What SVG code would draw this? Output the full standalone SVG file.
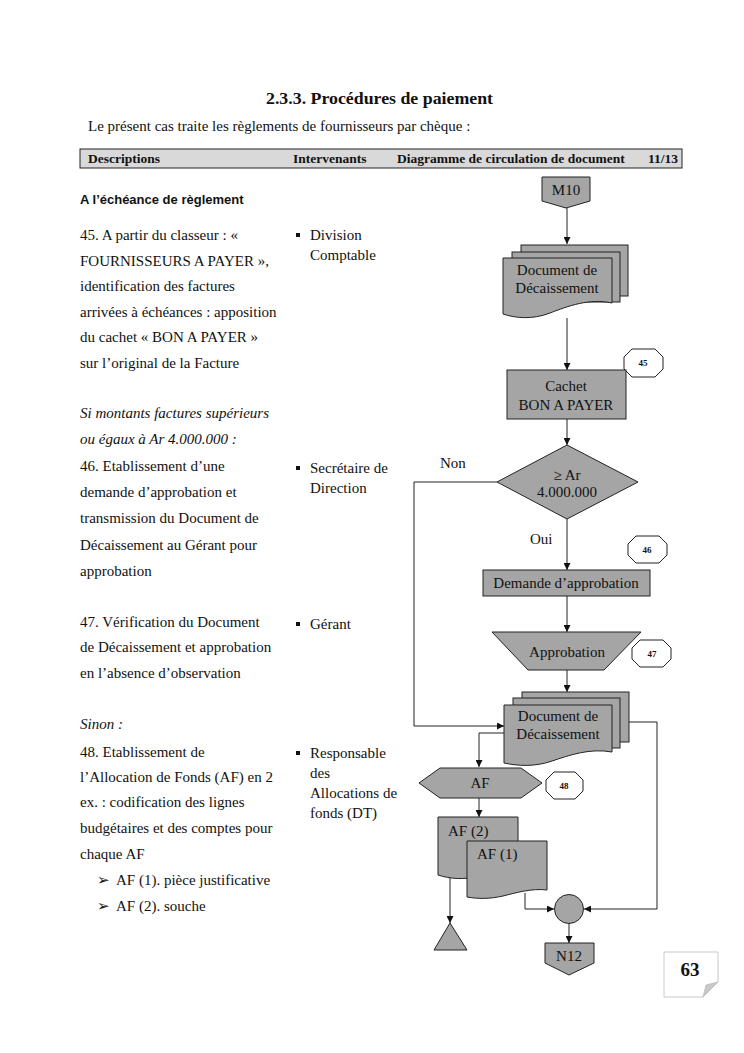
<svg xmlns="http://www.w3.org/2000/svg" width="744" height="1053" viewBox="0 0 744 1053">
<style>
.t{font-family:"Liberation Serif","Times New Roman",serif;font-size:15px;fill:#111}
.i{font-style:italic}
.hb{font-family:"Liberation Serif","Times New Roman",serif;font-size:13.5px;font-weight:bold;fill:#111}
.n{font-family:"Liberation Serif","Times New Roman",serif;font-size:15px;fill:#111;text-anchor:middle}
.bd{font-family:"Liberation Serif","Times New Roman",serif;font-size:9px;font-weight:bold;fill:#111;text-anchor:middle}
.sh{fill:#a5a5a5;stroke:#222;stroke-width:1}
.oct{fill:#fff;stroke:#222;stroke-width:1}
.ln{fill:none;stroke:#222;stroke-width:1}
</style>
<defs>
<marker id="ah" viewBox="0 0 10 10" refX="10" refY="5" markerWidth="7" markerHeight="7" markerUnits="userSpaceOnUse" orient="auto">
<path d="M0,0 L10,5 L0,10 Z" fill="#111"/>
</marker>
</defs>
<rect width="744" height="1053" fill="#fff"/>

<text x="266" y="104" textLength="227" lengthAdjust="spacingAndGlyphs" font-family="'Liberation Serif',serif" font-size="16.5" font-weight="bold" fill="#111">2.3.3. Procédures de paiement</text>
<text class="t" x="88" y="131">Le présent cas traite les règlements de fournisseurs par chèque :</text>

<rect x="80" y="149" width="602" height="19" fill="#d9d9d9" stroke="#222" stroke-width="1"/>
<text class="hb" x="88" y="163">Descriptions</text>
<text class="hb" x="293" y="163">Intervenants</text>
<text class="hb" x="397" y="163">Diagramme de circulation de document</text>
<text class="hb" x="648" y="163">11/13</text>

<text x="80" y="204" font-family="'Liberation Sans',Arial,sans-serif" font-size="13" font-weight="bold" fill="#111">A l’échéance de règlement</text>

<g id="descriptions">
<text class="t" x="80" y="240">45. A partir du classeur : «</text>
<text class="t" x="80" y="266">FOURNISSEURS A PAYER »,</text>
<text class="t" x="80" y="291">identification des factures</text>
<text class="t" x="80" y="317">arrivées à échéances : apposition</text>
<text class="t" x="80" y="342">du cachet « BON A PAYER »</text>
<text class="t" x="80" y="368">sur l’original de la Facture</text>
<text class="t i" x="80" y="418">Si montants factures supérieurs</text>
<text class="t i" x="80" y="444">ou égaux à Ar 4.000.000 :</text>
<text class="t" x="80" y="471">46. Etablissement d’une</text>
<text class="t" x="80" y="497">demande d’approbation et</text>
<text class="t" x="80" y="523">transmission du Document de</text>
<text class="t" x="80" y="550">Décaissement au Gérant pour</text>
<text class="t" x="80" y="576">approbation</text>
<text class="t" x="80" y="627">47. Vérification du Document</text>
<text class="t" x="80" y="652">de Décaissement et approbation</text>
<text class="t" x="80" y="678">en l’absence d’observation</text>
<text class="t i" x="80" y="729">Sinon :</text>
<text class="t" x="80" y="757">48. Etablissement de</text>
<text class="t" x="80" y="782">l’Allocation de Fonds (AF) en 2</text>
<text class="t" x="80" y="807">ex. : codification des lignes</text>
<text class="t" x="80" y="833">budgétaires et des comptes pour</text>
<text class="t" x="80" y="859">chaque AF</text>
<text class="t" x="97" y="885" font-size="13">➢</text>
<text class="t" x="116" y="885">AF (1). pièce justificative</text>
<text class="t" x="97" y="911" font-size="13">➢</text>
<text class="t" x="116" y="911">AF (2). souche</text>
</g>

<g id="intervenants">
<rect x="296" y="233" width="4" height="4" fill="#111"/>
<text class="t" x="310" y="240">Division</text>
<text class="t" x="310" y="260">Comptable</text>
<rect x="296" y="466" width="4" height="4" fill="#111"/>
<text class="t" x="310" y="473">Secrétaire de</text>
<text class="t" x="310" y="493">Direction</text>
<rect x="296" y="622" width="4" height="4" fill="#111"/>
<text class="t" x="310" y="629">Gérant</text>
<rect x="296" y="751" width="4" height="4" fill="#111"/>
<text class="t" x="310" y="758">Responsable</text>
<text class="t" x="310" y="778">des</text>
<text class="t" x="310" y="798">Allocations de</text>
<text class="t" x="310" y="818">fonds (DT)</text>
</g>

<g id="connectors">
<line class="ln" x1="567" y1="208" x2="567" y2="244" marker-end="url(#ah)"/>
<line class="ln" x1="567" y1="318" x2="567" y2="370" marker-end="url(#ah)"/>
<line class="ln" x1="567" y1="419" x2="567" y2="445" marker-end="url(#ah)"/>
<line class="ln" x1="567" y1="519" x2="567" y2="570" marker-end="url(#ah)"/>
<line class="ln" x1="567" y1="596" x2="567" y2="632" marker-end="url(#ah)"/>
<line class="ln" x1="567" y1="670" x2="567" y2="692" marker-end="url(#ah)"/>
<polyline class="ln" points="497,482 414,482 414,726 504,726" marker-end="url(#ah)"/>
<polyline class="ln" points="504,733 479,733 479,767" marker-end="url(#ah)"/>
<polyline class="ln" points="629,722 657,722 657,909 584,909" marker-end="url(#ah)"/>
<line class="ln" x1="479" y1="798" x2="479" y2="817" marker-end="url(#ah)"/>
<line class="ln" x1="450" y1="877" x2="450" y2="923" marker-end="url(#ah)"/>
<polyline class="ln" points="525,893 525,909 554,909" marker-end="url(#ah)"/>
<line class="ln" x1="569" y1="923" x2="569" y2="943" marker-end="url(#ah)"/>
<text class="t" x="440" y="468">Non</text>
<text class="t" x="530" y="544">Oui</text>
</g>

<g id="m10">
<path class="sh" d="M542,177 H590 V201 L566,208 L542,201 Z"/>
<text class="n" x="566" y="195">M10</text>
</g>

<g id="doc1">
<rect class="sh" x="521" y="245" width="107" height="51"/>
<rect class="sh" x="512" y="252" width="108" height="50"/>
<path class="sh" d="M503,258 H612 V303 C590,298 568,306 550,313 C532,320 515,318 503,314 Z"/>
<text class="n" x="557" y="275">Document de</text>
<text class="n" x="557" y="293">Décaissement</text>
</g>

<g id="b45">
<polygon class="oct" points="632,349 655,349 663,357 663,369 655,377 632,377 624,369 624,357"/>
<text class="bd" x="643" y="366">45</text>
</g>

<g id="cachet">
<rect class="sh" x="507" y="370" width="119" height="49"/>
<text class="n" x="566" y="391">Cachet</text>
<text class="n" x="566" y="410">BON A PAYER</text>
</g>

<g id="decision">
<polygon class="sh" points="567,445 638,482 567,519 497,482"/>
<text class="n" x="567" y="480">≥ Ar</text>
<text class="n" x="567" y="497">4.000.000</text>
</g>

<g id="b46">
<polygon class="oct" points="636,536 659,536 667,544 667,555 659,563 636,563 628,555 628,544"/>
<text class="bd" x="647" y="553">46</text>
</g>

<g id="demande">
<rect class="sh" x="483" y="570" width="167" height="26"/>
<text class="n" x="566" y="588">Demande d’approbation</text>
</g>

<g id="approbation">
<polygon class="sh" points="492,632 641,632 604,670 528,670"/>
<text class="n" x="567" y="657">Approbation</text>
</g>

<g id="b47">
<polygon class="oct" points="640,640 663,640 671,648 671,659 663,667 640,667 632,659 632,648"/>
<text class="bd" x="652" y="657">47</text>
</g>

<g id="doc2">
<rect class="sh" x="522" y="692" width="107" height="50"/>
<rect class="sh" x="513" y="698" width="107" height="50"/>
<path class="sh" d="M504,705 H612 V752 C590,748 570,755 552,761 C535,767 518,766 504,763 Z"/>
<text class="n" x="558" y="721">Document de</text>
<text class="n" x="558" y="739">Décaissement</text>
</g>

<g id="af">
<polygon class="sh" points="419,783 440,768 521,768 542,783 521,798 440,798"/>
<text class="n" x="480" y="788">AF</text>
</g>

<g id="b48">
<polygon class="oct" points="554,772 575,772 583,780 583,791 575,799 554,799 546,791 546,780"/>
<text class="bd" x="564" y="789">48</text>
</g>

<g id="af2">
<path class="sh" d="M438,817 H518 V870 C505,868 490,872 478,876 C465,880 450,879 438,875 Z"/>
<text class="t" x="448" y="836">AF (2)</text>
</g>

<g id="af1">
<path class="sh" d="M467,841 H547 V890 C532,888 515,893 503,896 C490,899 478,899 467,897 Z"/>
<text class="t" x="477" y="859">AF (1)</text>
</g>

<g id="archive">
<polygon class="sh" points="450,923 467,950 434,950"/>
</g>

<g id="merge">
<circle class="sh" cx="569" cy="909" r="14.5"/>
</g>

<g id="n12">
<path class="sh" d="M545,943 H594 V963 L569,975 L545,963 Z"/>
<text class="n" x="569" y="961">N12</text>
</g>

<g id="page">
<path d="M664,952 H718 V982 L703,997 H664 Z" fill="#fff" stroke="#c8c8c8" stroke-width="1"/>
<path d="M718,982 L703,997 L706,985 Z" fill="#c8c8c8" stroke="#bbb" stroke-width="0.8"/>
<text x="690" y="976" text-anchor="middle" font-family="'Liberation Serif',serif" font-size="19" font-weight="bold" fill="#111">63</text>
</g>
</svg>
